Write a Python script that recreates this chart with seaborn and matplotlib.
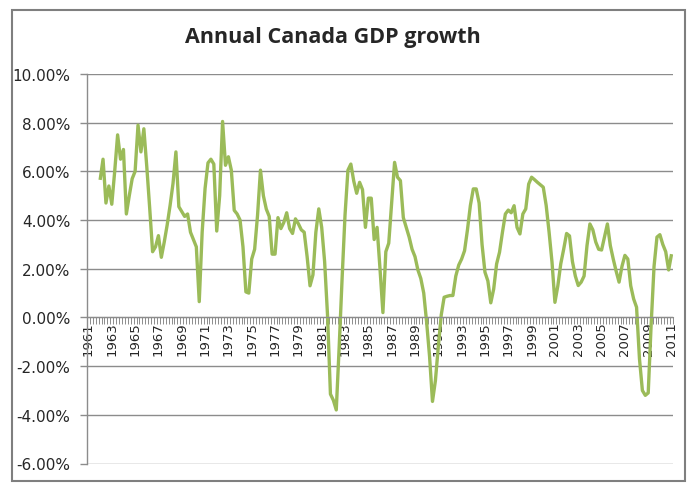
import matplotlib
matplotlib.use("Agg")
import matplotlib.pyplot as plt
from matplotlib.patches import Rectangle
from matplotlib.ticker import FixedLocator, FuncFormatter
import numpy as np
import pandas as pd
import seaborn as sns

# Category axis: quarters from 1961Q1 to 2011Q1, labelled every second year
first_year = 1961
last_year = 2011
label_years = list(range(1961, 2012, 2))

# Year-over-year growth (%), one value per quarter,
# starting with 1962Q1 (the first four quarters are empty)
growth_1960s = [5.65, 6.5, 4.7, 5.4, 4.65, 6.0, 7.5, 6.5, 6.9, 4.25, 5.0, 5.7,
                6.0, 7.9, 6.8, 7.75, 6.2, 4.5, 2.7, 2.9, 3.36, 2.47, 3.1, 3.8,
                4.6, 5.5, 6.8, 4.55, 4.35, 4.15, 4.25, 3.5]
growth_1970s = [3.2, 2.9, 0.65, 3.5, 5.3, 6.35, 6.5, 6.3, 3.55, 5.0, 8.05, 6.25,
                6.6, 6.05, 4.4, 4.25, 4.0, 2.9, 1.05, 1.0, 2.4, 2.8, 4.2, 6.05,
                5.0, 4.45, 4.15, 2.6, 2.6, 4.1, 3.65, 3.9, 4.3, 3.65, 3.45, 4.05,
                3.85, 3.6, 3.5, 2.5]
growth_1980s = [1.3, 1.75, 3.5, 4.46, 3.7, 2.3, 0.1, -3.15, -3.4, -3.8, -1.2, 1.6,
                4.2, 6.05, 6.3, 5.6, 5.1, 5.55, 5.25, 3.7, 4.9, 4.9, 3.2, 3.7,
                2.0, 0.2, 2.7, 3.05, 4.7, 6.37, 5.76, 5.62, 4.1, 3.7, 3.3, 2.8,
                2.5, 1.95, 1.6, 1.0]
growth_1990s = [-0.2, -1.6, -3.45, -2.6, -1.2, 0.1, 0.83, 0.87, 0.9, 0.9, 1.7, 2.15,
                2.4, 2.74, 3.6, 4.6, 5.28, 5.28, 4.7, 3.0, 1.86, 1.5, 0.6, 1.17,
                2.2, 2.68, 3.5, 4.25, 4.41, 4.3, 4.59, 3.7, 3.43, 4.25, 4.46, 5.48,
                5.76, 5.66, 5.55, 5.45]
growth_2000s = [5.35, 4.6, 3.5, 2.27, 0.62, 1.3, 2.2, 2.8, 3.45, 3.35, 2.3, 1.7,
                1.31, 1.45, 1.7, 2.95, 3.84, 3.6, 3.1, 2.8, 2.77, 3.3, 3.84, 2.95,
                2.4, 1.9, 1.45, 2.1, 2.55, 2.4, 1.3, 0.76, 0.42, -1.7, -3.0, -3.2,
                -3.1, -0.3, 2.1, 3.3]
growth_2010s = [3.4, 3.0, 2.7, 1.95, 2.6]

growth = growth_1960s + growth_1970s + growth_1980s + growth_1990s + growth_2000s + growth_2010s

n_quarters = (last_year - first_year) * 4 + 1
quarter_labels = [f"{first_year + q // 4}Q{q % 4 + 1}" for q in range(n_quarters)]
offset = n_quarters - len(growth)

df = pd.DataFrame({
    'quarter': quarter_labels[offset:],
    'pos': range(offset, n_quarters),
    'growth': growth,
})

LINE = '#9BBB59'
GRID = '#8C8C8C'

sns.set_style('white')
plt.rcParams['font.family'] = ['DejaVu Sans']

fig = plt.figure(figsize=(6.89, 4.85), dpi=100)
ax = fig.add_axes([87 / 689, 1 - 464.5 / 485, 586 / 689, 389.5 / 485])

# category axis crosses the value axis at 0, as in the original
for s in ('top', 'right'):
    ax.spines[s].set_visible(False)
ax.spines['bottom'].set_position(('data', 0))
ax.spines['bottom'].set_color(GRID)
ax.spines['left'].set_color(GRID)
ax.spines['left'].set_linewidth(1)

sns.lineplot(data=df, x='pos', y='growth', color=LINE, lw=2.4, ax=ax,
             solid_joinstyle='round', solid_capstyle='butt')

ax.set_xlim(-0.5, n_quarters - 0.5)
ax.set_ylim(-6, 10)
ax.set_yticks(np.arange(-6, 10.1, 2))
ax.yaxis.set_major_formatter(FuncFormatter(lambda v, p: f"{v:.2f}%"))
ax.grid(axis='y', color=GRID, lw=1)
ax.set_axisbelow(True)

label_pos = [(y - first_year) * 4 for y in label_years]
ax.xaxis.set_major_locator(FixedLocator(label_pos))
ax.xaxis.set_major_formatter(FuncFormatter(lambda v, p: str(first_year + int(round(v)) // 4)))
ax.xaxis.set_minor_locator(FixedLocator(np.arange(0, n_quarters + 1) - 0.5))
ax.tick_params(axis='x', which='major', length=0, pad=3, labelsize=9.5,
               labelrotation=90, bottom=True)
ax.tick_params(axis='x', which='minor', length=5, width=0.7, color=GRID,
               direction='out', bottom=True)
ax.tick_params(axis='y', length=5, width=1, color=GRID, labelsize=11, pad=7, left=True)
ax.set_xlabel('')
ax.set_ylabel('')

fig.text(333 / 689, 1 - 37 / 485, 'Annual Canada GDP growth', ha='center', va='center',
         fontsize=15.5, fontweight='bold', family=['Open Sans', 'DejaVu Sans'])

fig.patches.append(Rectangle((12 / 689, 3 / 485), 673 / 689, 471 / 485,
                             transform=fig.transFigure, fill=False,
                             edgecolor='#7F7F7F', lw=1.5))

fig.savefig('out.png', dpi=100)
